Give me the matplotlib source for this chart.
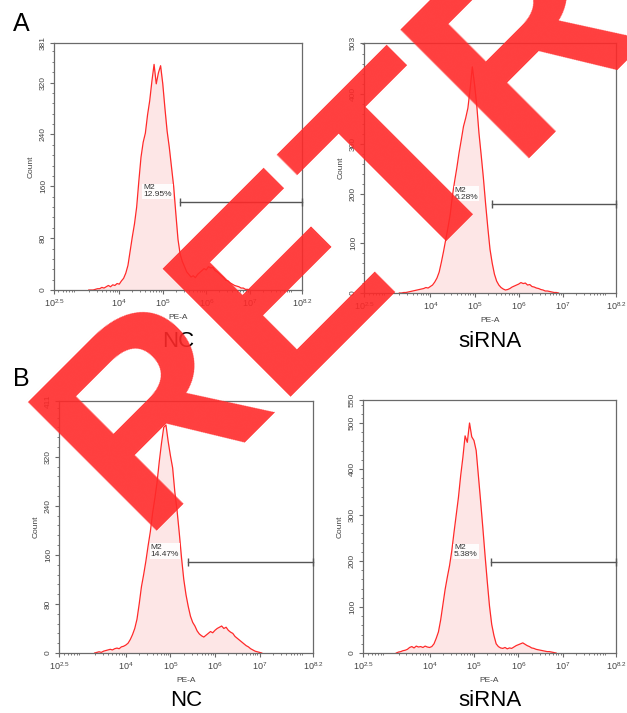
import numpy as np
import matplotlib
matplotlib.use("Agg")
import matplotlib.pyplot as plt
from matplotlib.ticker import FixedLocator, MultipleLocator, LogLocator, NullFormatter

plt.rcParams['font.family'] = ['Liberation Sans', 'DejaVu Sans']
plt.rcParams['mathtext.fontset'] = 'custom'
plt.rcParams['mathtext.rm'] = 'Liberation Sans'
plt.rcParams['mathtext.it'] = 'Liberation Sans'

# ---------------- data ----------------
bin_step = 0.05  # log10 width of histogram channel

a_nc_start = 3.30
a_nc_counts = [0, 0, 0, 1, 2, 2, 4, 3, 5, 7, 5, 8, 7, 10, 9, 14, 18, 26, 38, 60,
               82, 102, 128, 168, 205, 228, 242, 270, 292, 322, 348, 318, 335, 346, 318, 280,
               245, 220, 190, 160, 118, 78, 55, 44, 36, 28, 24, 20, 22, 19, 24, 27, 30,
               33, 31, 36, 34, 35, 30, 28, 25, 22, 19, 15, 14, 11, 9, 7, 6, 5, 3, 3, 1, 1, 0]

a_si_start = 3.30
a_si_counts = [0, 0, 1, 1, 2, 3, 4, 5, 6, 7, 8, 9, 11, 10, 13, 16, 22, 30, 42, 62,
               84, 108, 132, 158, 196, 225, 252, 282, 308, 335, 352, 372, 410, 455, 420, 378,
               322, 278, 232, 180, 132, 88, 60, 38, 24, 16, 11, 8, 6, 7, 9, 12, 14, 16,
               18, 21, 19, 20, 16, 17, 13, 12, 10, 9, 7, 6, 4, 4, 3, 2, 1, 1, 0]

b_nc_start = 3.30
b_nc_counts = [0, 1, 2, 1, 3, 4, 5, 6, 5, 7, 8, 7, 10, 11, 13, 16, 22, 30, 40, 55,
               80, 108, 128, 150, 175, 198, 228, 252, 278, 312, 342, 368, 372, 345, 322, 302,
               262, 232, 195, 155, 120, 95, 76, 60, 50, 44, 36, 31, 28, 26, 29, 32, 35,
               33, 37, 40, 42, 44, 40, 42, 37, 34, 32, 27, 24, 21, 18, 15, 12, 10, 7, 5,
               3, 2, 1, 0]

b_si_start = 3.25
b_si_counts = [0, 2, 3, 5, 6, 8, 12, 14, 11, 15, 13, 14, 12, 15, 13, 12, 14, 20, 32, 46,
               72, 105, 138, 165, 190, 222, 262, 300, 338, 385, 425, 472, 458, 500, 470, 462,
               440, 385, 330, 272, 212, 155, 102, 62, 38, 20, 14, 11, 10, 12, 9, 11, 10,
               13, 16, 18, 20, 22, 19, 16, 14, 11, 10, 8, 7, 6, 5, 4, 3, 3, 2, 1, 0]

y_max = [381, 503, 411, 550]
y_major = [[0, 80, 160, 240, 320, 381],
           [0, 100, 200, 300, 400, 503],
           [0, 80, 160, 240, 320, 411],
           [0, 100, 200, 300, 400, 500, 550]]
y_minor_step = [16, 20, 16, 20]

gate_start_log = 5.39
gate_end_log = 8.2
gate_y = [136, 179, 149, 198]
gate_pct = ["12.95%", "6.28%", "14.47%", "5.38%"]
gate_label_log = 4.55

x_tick_logs = [2.5, 4, 5, 6, 7, 8.2]
x_tick_labels = [r'$10^{2.5}$', r'$10^{4}$', r'$10^{5}$', r'$10^{6}$', r'$10^{7}$', r'$10^{8.2}$']

sample_names = ["NC", "siRNA", "NC", "siRNA"]
panel_letters = ["A", "B"]
watermark = "RETRACTED"

starts = [a_nc_start, a_si_start, b_nc_start, b_si_start]
counts_all = [a_nc_counts, a_si_counts, b_nc_counts, b_si_counts]

# ---------------- layout ----------------
W, H = 627, 713
fig = plt.figure(figsize=(W / 100, H / 100), dpi=100)

boxes_px = [(54, 43, 302, 290), (364, 43, 616, 293),
            (59, 401, 313, 653), (363, 400, 616, 653)]

frame_col = '#6a6a6a'
txt_col = '#444444'
line_red = '#ff2a2a'
fill_pink = '#fde6e6'

for i, (x0, y0, x1, y1) in enumerate(boxes_px):
    ax = fig.add_axes([x0 / W, 1 - y1 / H, (x1 - x0) / W, (y1 - y0) / H])
    c = np.array(counts_all[i], dtype=float)
    lg = starts[i] + bin_step * np.arange(len(c))
    xv = 10 ** lg
    ax.fill_between(xv, 0, c, color=fill_pink, lw=0, zorder=1)
    ax.plot(xv, c, color=line_red, lw=0.9, zorder=2)

    ax.set_xscale('log')
    ax.set_xlim(10 ** 2.5, 10 ** 8.2)
    ax.set_ylim(0, y_max[i])

    ax.xaxis.set_major_locator(FixedLocator([10 ** v for v in x_tick_logs]))
    ax.set_xticklabels(x_tick_labels)
    ax.xaxis.set_minor_locator(LogLocator(base=10, subs=np.arange(2, 10)))
    ax.xaxis.set_minor_formatter(NullFormatter())

    ax.yaxis.set_major_locator(FixedLocator(y_major[i]))
    ax.set_yticklabels([str(v) for v in y_major[i]], rotation=90, va='center')
    ax.yaxis.set_minor_locator(MultipleLocator(y_minor_step[i]))

    ax.tick_params(axis='both', which='major', direction='out', length=3, width=0.8,
                   colors=frame_col, labelcolor=txt_col, labelsize=6, pad=2)
    ax.tick_params(axis='x', which='major', labelsize=6.5)
    ax.tick_params(axis='both', which='minor', direction='out', length=1.6, width=0.6,
                   colors=frame_col)
    for sp in ax.spines.values():
        sp.set_color(frame_col)
        sp.set_linewidth(0.9)

    ax.set_xlabel('PE-A', fontsize=6, color=txt_col, labelpad=4)
    ax.set_ylabel('Count', fontsize=6, color=txt_col, labelpad=4)

    # gate marker M2
    ax.plot([10 ** gate_start_log, 10 ** gate_end_log], [gate_y[i], gate_y[i]],
            color='#555555', lw=1.0, zorder=3, clip_on=False)
    ax.plot([10 ** gate_start_log, 10 ** gate_end_log], [gate_y[i], gate_y[i]],
            ls='none', marker='|', ms=6, mew=1.0, color='#555555', zorder=3, clip_on=False)
    ax.annotate("M2\n" + gate_pct[i], xy=(10 ** gate_label_log, gate_y[i]),
                xytext=(0, 2.5), textcoords='offset points', ha='left', va='bottom',
                fontsize=6, color='#333333', linespacing=1.0, zorder=4,
                bbox=dict(boxstyle='square,pad=0.1', fc='white', ec='none', alpha=0.9))

    # sample names below
    fig.text(((x0 + x1) / 2) / W, 1 - (342 if i < 2 else 701) / H, sample_names[i],
             ha='center', va='center', fontsize=16, color='black')

fig.text(13 / W, 1 - 24 / H, panel_letters[0], ha='left', va='center', fontsize=18)
fig.text(13 / W, 1 - 379 / H, panel_letters[1], ha='left', va='center', fontsize=18)

# retraction watermark
fig.text(139 / W, 1 - 531 / H, watermark, rotation=45, rotation_mode='anchor',
         ha='left', va='baseline', fontsize=190, fontweight='bold',
         family='Liberation Sans', color=(1.0, 0.16, 0.16), alpha=0.9, zorder=100)

fig.savefig('out.png', dpi=100)
